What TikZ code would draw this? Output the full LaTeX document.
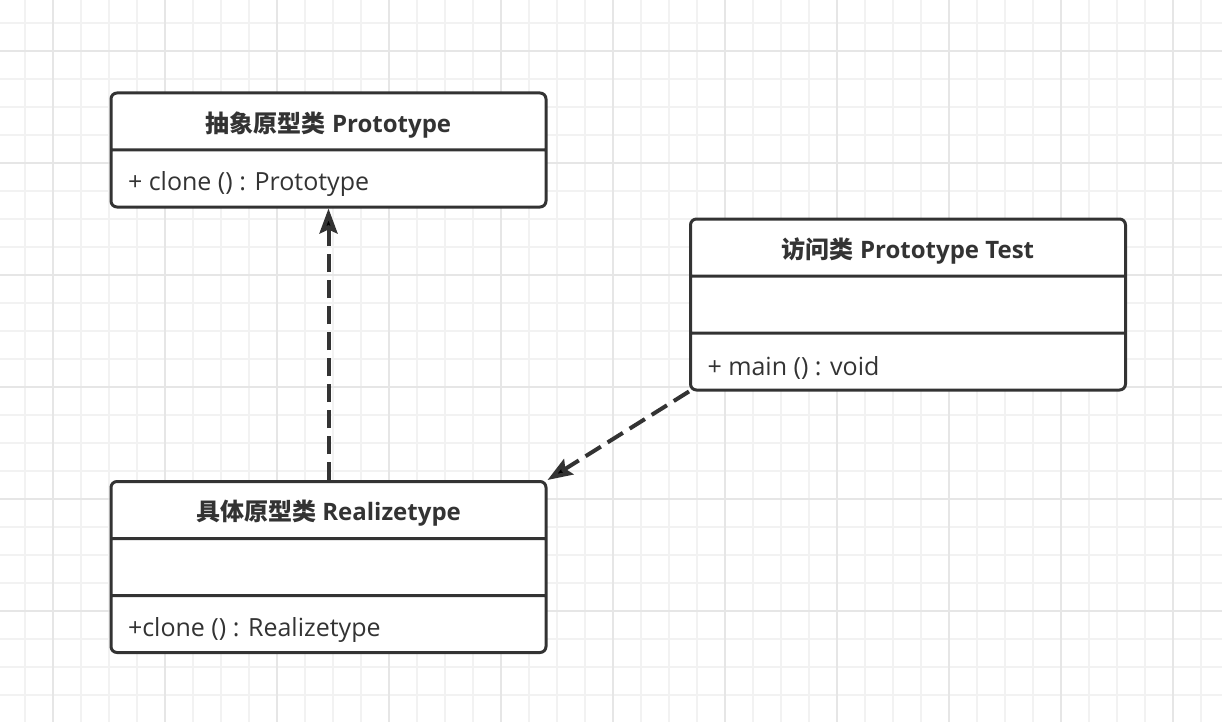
\documentclass[tikz,border=0pt]{standalone}
\usepackage{fontspec}
\usepackage{xcolor}
\setmainfont{Open Sans}
\newfontfamily\cjk{Noto Sans CJK SC}
\usetikzlibrary{shapes.multipart,arrows.meta}
\definecolor{ink}{HTML}{333333}
\definecolor{gridminor}{HTML}{F2F2F2}
\definecolor{gridmajor}{HTML}{E6E6E6}
\newcommand{\titlecell}[1]{\vbox to 54pt{\vskip 7pt plus 1fil\hbox to 435pt{\hfil\fontsize{24}{28}\selectfont\bfseries#1\hfil}\vskip 0pt plus 1fil}}
\newcommand{\membercell}[1]{\vbox to 54pt{\vskip 12pt plus 1fil\hbox to 435pt{\hspace{17pt}\fontsize{25}{29}\selectfont#1\hfil}\vskip 0pt plus 1fil}}
\newcommand{\emptycell}{\vbox to 54pt{\vfil\hbox to 435pt{\hfil}\vfil}}

\begin{document}
\begin{tikzpicture}[x=1pt,y=-1pt,
        classbox/.style={rectangle split,rectangle split parts=#1,draw=ink,line width=3pt,
            rounded corners=6pt,inner sep=0pt,fill=white,text=ink},
        dep/.style={draw=ink,line width=4pt,dash pattern=on 18pt off 8pt,
            -{Stealth[length=25pt,width=18pt,inset=4pt]}}]
        \useasboundingbox[fill=white] (0,0) rectangle (1222,722);
        \foreach \x in {25,53,...,1222} \draw[gridminor,line width=1.6pt] (\x,0) -- (\x,722);
        \foreach \y in {23,51,...,722} \draw[gridminor,line width=1.6pt] (0,\y) -- (1222,\y);
        \foreach \x in {53,165,...,1222} \draw[gridmajor,line width=1.6pt] (\x,0) -- (\x,722);
        \foreach \y in {51,163,...,722} \draw[gridmajor,line width=1.6pt] (0,\y) -- (1222,\y);

        \node[classbox=2] (proto) at (328.5,150)
            {\titlecell{{\cjk 抽象原型类} Prototype}\nodepart{two}\membercell{+ clone () : Prototype}};
        \node[classbox=3] (test) at (908,304.5)
            {\titlecell{{\cjk 访问类} Prototype Test}\nodepart{two}\emptycell\nodepart{three}\membercell{+ main () : void}};
        \node[classbox=3] (real) at (328.5,567)
            {\titlecell{{\cjk 具体原型类} Realizetype}\nodepart{two}\emptycell\nodepart{three}\membercell{+clone () : Realizetype}};

        \draw[dep] (real.north) -- (proto.south);
        \draw[dep] (test.south west) -- (real.north east);
    \end{tikzpicture}
\end{document}
